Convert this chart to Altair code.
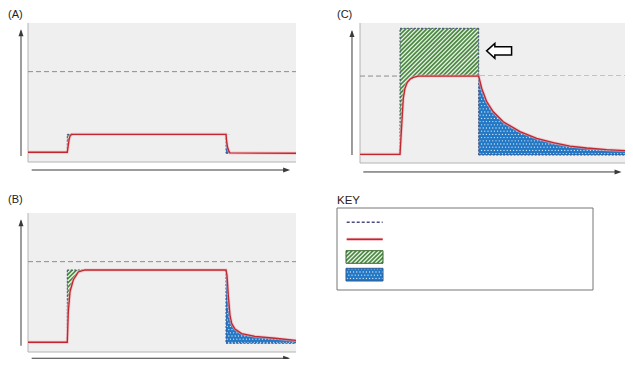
import altair as alt
import pandas as pd

# ---------------------------------------------------------------------------
# Data, in panel units: time 0-100 across each shaded box, level 0-100 from
# the bottom to the top of the box.
# ---------------------------------------------------------------------------
A_time = [0, 14.66, 15.04, 15.3, 15.67, 16.2, 16.8, 73.9, 74.07, 74.44, 75.0, 75.37, 100]
A_level = [7.0, 7.0, 12.2, 15.8, 18.7, 19.8, 19.9, 19.9, 15.8, 10.8, 7.6, 6.5, 6.3]
A_threshold = 65.0
A_rise = (1, 6)      # index range of the rising edge (green region)
A_fall = (7, 11)     # index range of the falling edge (blue region)
A_green_top = 19.9
A_blue_bottom = 6.3

B_time = [0, 14.66, 15.04, 15.67, 16.9, 18.77, 21.27, 73.88, 74.25, 74.74, 75.37,
          76.0, 77.24, 79.74, 84.7, 92.2, 100]
B_level = [7.0, 7.0, 28.8, 43.2, 51.8, 57.6, 59.0, 59.0, 55.4, 41.0, 26.6,
           20.6, 16.5, 13.2, 11.3, 9.9, 8.3]
B_threshold = 65.0
B_rise = (1, 6)
B_fall = (7, 16)
B_green_top = 59.0
B_blue_bottom = 6.3

C_time = [0, 14.93, 16.16, 16.8, 17.65, 18.66, 19.89, 21.75, 44.29, 45.41, 47.28,
          49.74, 53.47, 59.7, 65.93, 72.13, 78.36, 84.59, 92.05, 100]
C_level = [6.2, 6.2, 46.2, 53.4, 57.6, 59.8, 61.2, 62.1, 62.1, 53.4, 43.8,
           36.6, 29.5, 22.4, 17.6, 14.5, 12.1, 10.7, 9.5, 8.8]
C_threshold = 62.1
C_rise = (1, 8)
C_fall = (8, 19)
C_green_top = 96.2
C_blue_bottom = 5.7
C_arrow_at = (51.9, 80.1)

panel_labels = ["(A)", "(B)", "(C)"]
key_title = "KEY"

# ---------------------------------------------------------------------------
# Layout (page pixels of the 633x367 picture)
# ---------------------------------------------------------------------------
OFF = 8
PW, PH = 617, 351
BOX_A = (28, 23, 296, 162)
BOX_B = (28, 213, 296, 352)
BOX_C = (360, 23, 628, 163)

GRAY = "#efefef"
GREEN = "#4b8b41"
GREEN_EDGE = "#3b6b33"
BLUE = "#2378c6"
BLUE_EDGE = "#2a5a92"
NAVY = "#474c7e"
RED = "#c1272f"
PINK = "#f1aab0"
AXIS = "#3a3a3a"
FONT = "Liberation Sans"

UP_HEAD = "M0,0L0.36,1L-0.36,1Z"
RIGHT_HEAD = "M0,0L-1,-0.36L-1,0.36Z"
BLOCK_LEFT = "M-1,0L-0.34,-0.6L-0.34,-0.33L1,-0.33L1,0.33L-0.34,0.33L-0.34,0.6Z"

HATCH_PERIOD = 4.2
DOT_STEP = 3.2


def panel_scales(box):
    x0, y0, x1, y1 = box

    def tx(X):
        return (X - x0) / (x1 - x0) * 100

    def ly(Y):
        return (y1 - Y) / (y1 - y0) * 100

    sx = alt.Scale(domain=[tx(OFF), tx(OFF + PW)], nice=False, zero=False)
    sy = alt.Scale(domain=[ly(OFF + PH), ly(OFF)], nice=False, zero=False)
    return sx, sy


def to_page(box, t, L):
    x0, y0, x1, y1 = box
    return x0 + t / 100 * (x1 - x0), y1 - L / 100 * (y1 - y0)


PAGE = (alt.Scale(domain=[OFF, OFF + PW], nice=False, zero=False),
        alt.Scale(domain=[OFF + PH, OFF], nice=False, zero=False))


def enc_xy(sc, xf="x", yf="y"):
    return dict(x=alt.X(f"{xf}:Q", scale=sc[0], axis=None),
                y=alt.Y(f"{yf}:Q", scale=sc[1], axis=None))


def segs(sc, rows, **mark):
    df = pd.DataFrame(rows, columns=["x", "x2", "y", "y2"])
    return alt.Chart(df).mark_rule(**mark).encode(**enc_xy(sc), x2="x2:Q", y2="y2:Q")


def rects(sc, rows, **mark):
    df = pd.DataFrame(rows, columns=["x", "x2", "y", "y2"])
    return alt.Chart(df).mark_rect(**mark).encode(**enc_xy(sc), x2="x2:Q", y2="y2:Q")


def curve(sc, t, L, **mark):
    df = pd.DataFrame({"x": t, "y": L, "i": list(range(len(t)))})
    return alt.Chart(df).mark_line(**mark).encode(**enc_xy(sc), order="i:Q")


def band(sc, t, L, edge, **mark):
    df = pd.DataFrame({"x": t, "y": L, "e": [edge] * len(t)})
    return alt.Chart(df).mark_area(**mark).encode(**enc_xy(sc), y2="e:Q")


def points(sc, xs, ys, **mark):
    df = pd.DataFrame({"x": xs, "y": ys})
    return alt.Chart(df).mark_point(**mark).encode(**enc_xy(sc))


def texts(sc, xs, ys, labels, **mark):
    df = pd.DataFrame({"x": xs, "y": ys, "s": labels})
    return alt.Chart(df).mark_text(**mark).encode(**enc_xy(sc), text="s:N")


# --- fill textures (page pixels): diagonal hatching and dot screen --------
def hatch(X0, X1, Y0, Y1):
    rows = []
    k = int((X0 + Y0) // HATCH_PERIOD)
    while True:
        c = k * HATCH_PERIOD
        if c > X1 + Y1:
            break
        xa, xb = max(X0, c - Y1), min(X1, c - Y0)
        if xb > xa:
            rows.append((xa, xb, c - xa, c - xb))
        k += 1
    if not rows:
        return []
    return [segs(PAGE, rows, color="white", strokeWidth=1.25, opacity=0.9)]


def dots(X0, X1, Y0, Y1):
    xs, ys = [], []
    r = int(Y0 // DOT_STEP)
    while r * DOT_STEP <= Y1:
        y = r * DOT_STEP
        if y >= Y0:
            c = int(X0 // DOT_STEP)
            while c * DOT_STEP <= X1:
                x = c * DOT_STEP + (DOT_STEP / 2 if r % 2 else 0)
                if X0 + 0.5 <= x <= X1 - 0.5:
                    xs.append(x)
                    ys.append(y)
                c += 1
        r += 1
    if not xs:
        return []
    return [points(PAGE, xs, ys, shape="circle", filled=True, color="white",
                   size=1.6, opacity=0.85, strokeWidth=0)]


def panel(box, t, L, thr, rise, fall, gtop, bbot, arrows, extra_right=False):
    sc = panel_scales(box)
    r0, r1 = rise
    f0, f1 = fall
    layers = []
    layers.append(rects(sc, [(0, 100, 0, 100)], fill=GRAY))
    layers.append(segs(sc, [(0, 0, 0, 100), (0, 100, 0, 0)], color="#b4b4b4", strokeWidth=1))
    layers.append(segs(sc, [(0, 100, thr, thr)], color="#8c8c8c", strokeWidth=1,
                       strokeDash=[5, 3]))
    # green block (rise) with hatching, then clear what lies under the curve
    layers.append(rects(sc, [(t[r0], t[r1], L[r0], gtop)], fill=GREEN))
    gx0, gy1 = to_page(box, t[r0], L[r0])
    gx1, gy0 = to_page(box, t[r1], gtop)
    layers += hatch(gx0, gx1, gy0, gy1)
    layers.append(band(sc, t[r0:r1 + 1], L[r0:r1 + 1], L[r0] - 1.2, color=GRAY))
    # blue block (fall) with dots, then clear what lies above the curve
    layers.append(rects(sc, [(t[f0], t[f1], bbot, L[f0])], fill=BLUE))
    bx0, by0 = to_page(box, t[f0], L[f0])
    bx1, by1 = to_page(box, t[f1], bbot)
    layers += dots(bx0, min(bx1, OFF + PW), by0, by1)
    layers.append(band(sc, t[f0:f1 + 1], L[f0:f1 + 1], L[f0], color=GRAY))
    edges = [(t[r0], t[r0], L[r0], gtop), (t[r0], t[r1], gtop, gtop),
             (t[f0], t[f0], L[f0], bbot), (t[f0], t[f1], bbot, bbot)]
    if extra_right:
        edges.append((t[r1], t[r1], gtop, L[r1]))
        edges.append((t[f1], t[f1], bbot, L[f1]))
    layers.append(segs(sc, edges, color=NAVY, strokeWidth=1, strokeDash=[2, 1.5]))
    layers.append(curve(sc, t, L, color=PINK, strokeWidth=3.0, opacity=0.6))
    layers.append(curve(sc, t, L, color=RED, strokeWidth=1.3))
    # axis arrows
    (yx, yb, yt), (xy, xl, xr) = arrows
    layers.append(segs(sc, [(yx, yx, yb, yt - 1), (xl, xr - 1, xy, xy)],
                       color=AXIS, strokeWidth=1))
    layers.append(points(sc, [yx], [yt], shape=UP_HEAD, size=196, filled=True,
                         color=AXIS, opacity=1, strokeWidth=0))
    layers.append(points(sc, [xr], [xy], shape=RIGHT_HEAD, size=196, filled=True,
                         color=AXIS, opacity=1, strokeWidth=0))
    return layers, sc


layers = []
la, _ = panel(BOX_A, A_time, A_level, A_threshold, A_rise, A_fall, A_green_top,
              A_blue_bottom, ((-2.61, 4.3, 95.5), (-5.76, 1.38, 97.8)))
lb, _ = panel(BOX_B, B_time, B_level, B_threshold, B_rise, B_fall, B_green_top,
              B_blue_bottom, ((-2.61, 4.5, 95.5), (-4.5, 1.38, 97.8)))
lc, scC = panel(BOX_C, C_time, C_level, C_threshold, C_rise, C_fall, C_green_top,
                C_blue_bottom, ((-2.99, 5.7, 95.0), (-6.4, 1.23, 97.6)), extra_right=True)
layers += la + lb + lc

# the open arrow pointing at the green block in (C)
layers.append(points(scC, [C_arrow_at[0]], [C_arrow_at[1]], shape=BLOCK_LEFT, size=625,
                     filled=True, fill="white", stroke="black", strokeWidth=1.5,
                     opacity=1, fillOpacity=1, strokeOpacity=1))

# panel labels
layers.append(texts(PAGE, [8, 8, 337], [17.5, 202.7, 17.5], panel_labels,
                    align="left", baseline="alphabetic", font=FONT, fontSize=11,
                    color="#222222"))

# key
layers.append(texts(PAGE, [337], [204], [key_title], align="left", baseline="alphabetic",
                    font=FONT, fontSize=11.5, color="#222222"))
layers.append(rects(PAGE, [(337, 593, 208, 290)], fill="white", stroke="#777777",
                    strokeWidth=1))
layers.append(segs(PAGE, [(346.7, 382.7, 222.3, 222.3)], color=NAVY, strokeWidth=1.5,
                   strokeDash=[3, 2]))
layers.append(segs(PAGE, [(346.7, 382.7, 239.3, 239.3)], color=PINK, strokeWidth=3.2,
                   opacity=0.7))
layers.append(segs(PAGE, [(346.7, 382.7, 239.3, 239.3)], color=RED, strokeWidth=1.6))
layers.append(rects(PAGE, [(346, 383, 250.7, 263.3)], fill=GREEN))
layers += hatch(346, 383, 250.7, 263.3)
layers.append(rects(PAGE, [(346, 383, 250.7, 263.3)], fillOpacity=0, stroke=GREEN_EDGE,
                    strokeWidth=1))
layers.append(rects(PAGE, [(346, 383, 268.3, 281)], fill=BLUE))
layers += dots(346, 383, 268.3, 281)
layers.append(rects(PAGE, [(346, 383, 268.3, 281)], fillOpacity=0, stroke=BLUE_EDGE,
                    strokeWidth=1))

chart = alt.layer(*layers).resolve_scale(x="independent", y="independent").properties(
    width=PW, height=PH, padding=0, background="white",
    autosize=alt.AutoSizeParams(type="none"),
).configure_view(strokeWidth=0)

chart.save("out.html", embed_options={"renderer": "svg", "actions": False})
